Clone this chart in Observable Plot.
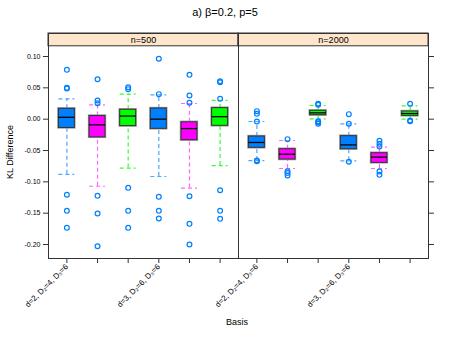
<!DOCTYPE html>
<html>
<head>
<meta charset="utf-8">
<script src="https://cdn.jsdelivr.net/npm/d3@7"></script>
<script src="https://cdn.jsdelivr.net/npm/@observablehq/plot@0.6"></script>
<style>
  body { margin: 0; background: #fff; }
  #wrap { position: relative; width: 450px; height: 337px; font-family: "Liberation Sans", Arial, sans-serif; }
  #title { height: 24px; line-height: 24px; text-align: center; font-size: 11px; color: #000; }
  .lab { position: absolute; font-size: 9px; color: #000; white-space: nowrap; }
</style>
</head>
<body>
<div id="wrap">
  <div id="title">a) β=0.2, p=5</div>
  <div id="chart"></div>
  <div class="lab" id="xlab" style="left:237px; top:317px; transform:translateX(-50%);">Basis</div>
  <div class="lab" id="ylab" style="left:10px; top:152px; transform:translate(-50%,-50%) rotate(-90deg);">KL Difference</div>
</div>
<script>
const panels = ["n=500", "n=2000"];
const positions = [1, 2, 3, 4, 5, 6];
const basisLabels = ["d=2, D₂=4, D₃=6", "", "", "d=3, D₂=6, D₃=6", "", ""];
const yTicks = [-0.20, -0.15, -0.10, -0.05, 0.00, 0.05, 0.10];
const boxFill = ["#0080ff", "#ff00ff", "#00ff00", "#0080ff", "#ff00ff", "#00ff00"];
const whiskerColor = ["#4da6ff", "#ff66ff", "#33ff33", "#4da6ff", "#ff66ff", "#33ff33"];

// n=500
const lo500  = [-0.088, -0.107, -0.078, -0.0915, -0.110, -0.074];
const q1_500 = [-0.014, -0.029, -0.011, -0.0154, -0.0335, -0.0106];
const med500 = [0.003, -0.009, 0.005, 0.000, -0.015, 0.004];
const q3_500 = [0.0165, 0.005, 0.015, 0.017, -0.005, 0.0176];
const hi500  = [0.0324, 0.0229, 0.040, 0.0388, 0.025, 0.030];
const out500 = [
  [0.0787, 0.050, 0.049, -0.1207, -0.1463, -0.1734],
  [0.0638, 0.0298, 0.0255, -0.1223, -0.1505, -0.2027],
  [0.051, 0.0479, -0.1096, -0.1463, -0.1734],
  [0.0963, 0.0399, -0.1239, -0.1463, -0.1585],
  [0.0707, 0.0378, 0.0261, -0.1229, -0.167, -0.200],
  [0.0606, 0.059, 0.0324, -0.1133, -0.1463, -0.159]
];
// n=2000
const lo2000  = [-0.066, -0.0787, 0.0005, -0.0665, -0.0787, 0.000];
const q1_2000 = [-0.0457, -0.0644, 0.0064, -0.0479, -0.0697, 0.0053];
const med2000 = [-0.0372, -0.0559, 0.0101, -0.041, -0.0606, 0.009];
const q3_2000 = [-0.0277, -0.0479, 0.0133, -0.0271, -0.0543, 0.0122];
const hi2000  = [-0.0037, -0.034, 0.0218, -0.0074, -0.0447, 0.0213];
const out2000 = [
  [0.0128, 0.0085, -0.0037, -0.066, -0.067],
  [-0.0319, -0.083, -0.0899, -0.086],
  [0.0245, 0.023, -0.0032, -0.0074, -0.005],
  [0.008, -0.0074, -0.068],
  [-0.0346, -0.0394, -0.0436, -0.0835, -0.0888],
  [0.0245, -0.0032, -0.002]
];

const stats = [
  {lo: lo500, q1: q1_500, med: med500, q3: q3_500, hi: hi500, out: out500},
  {lo: lo2000, q1: q1_2000, med: med2000, q3: q3_2000, hi: hi2000, out: out2000}
];

const boxes = panels.flatMap((p, pi) => positions.map((x, i) => ({
  panel: p, x, i,
  lo: stats[pi].lo[i], q1: stats[pi].q1[i], med: stats[pi].med[i],
  q3: stats[pi].q3[i], hi: stats[pi].hi[i]
})));
const outliers = panels.flatMap((p, pi) => positions.flatMap((x, i) =>
  stats[pi].out[i].map(v => ({panel: p, x, v}))));

const xDomain = [0.4, 6.6];
const yDomain = [-0.2223, 0.1367];
const stripBottom = 0.1163;
const hw = 0.26;

const strips = panels.map(p => ({panel: p}));

const chart = Plot.plot({
  width: 450,
  height: 313,
  marginTop: 9,
  marginBottom: 79,
  marginLeft: 47,
  marginRight: 22,
  style: {fontFamily: "Liberation Sans, Arial, sans-serif", fontSize: "7px", color: "#000", background: "#fff"},
  fx: {domain: panels, padding: 0, axis: null},
  x: {domain: xDomain},
  y: {domain: yDomain},
  marks: [
    Plot.rect(strips, {fx: "panel", x1: xDomain[0], x2: xDomain[1], y1: stripBottom, y2: yDomain[1], fill: "#ffe5cc", stroke: "#333", strokeWidth: 1}),
    Plot.text(strips, {fx: "panel", x: (xDomain[0] + xDomain[1]) / 2, y: (stripBottom + yDomain[1]) / 2, text: "panel", fontSize: 9, fill: "#000"}),
    // whiskers
    Plot.ruleX(boxes, {fx: "panel", x: "x", y1: "q3", y2: "hi", stroke: d => whiskerColor[d.i], strokeDasharray: "4,3", strokeWidth: 1.2}),
    Plot.ruleX(boxes, {fx: "panel", x: "x", y1: "lo", y2: "q1", stroke: d => whiskerColor[d.i], strokeDasharray: "4,3", strokeWidth: 1.2}),
    Plot.ruleY(boxes, {fx: "panel", y: "hi", x1: d => d.x - hw, x2: d => d.x + hw, stroke: d => whiskerColor[d.i], strokeDasharray: "4,3", strokeWidth: 1.2}),
    Plot.ruleY(boxes, {fx: "panel", y: "lo", x1: d => d.x - hw, x2: d => d.x + hw, stroke: d => whiskerColor[d.i], strokeDasharray: "4,3", strokeWidth: 1.2}),
    // boxes
    Plot.rect(boxes, {fx: "panel", x1: d => d.x - hw, x2: d => d.x + hw, y1: "q1", y2: "q3", fill: d => boxFill[d.i], stroke: "#999", strokeWidth: 2.4}),
    Plot.rect(boxes, {fx: "panel", x1: d => d.x - hw, x2: d => d.x + hw, y1: "q1", y2: "q3", fill: d => boxFill[d.i], stroke: "#333", strokeWidth: 1}),
    Plot.ruleY(boxes, {fx: "panel", y: "med", x1: d => d.x - hw, x2: d => d.x + hw, stroke: "#000", strokeWidth: 1.3}),
    // outliers
    Plot.dot(outliers, {fx: "panel", x: "x", y: "v", r: 2.4, stroke: "#0080ff", strokeWidth: 1.2, fill: "none"}),
    Plot.frame({stroke: "#333", strokeWidth: 1}),
    Plot.axisY({anchor: "left", ticks: yTicks, tickFormat: d => d.toFixed(2), tickSize: 5, tickPadding: 3, label: null, stroke: "#333"}),
    Plot.axisY({anchor: "right", ticks: yTicks, tickFormat: () => "", tickSize: 5, label: null, stroke: "#333"}),
    Plot.axisX({anchor: "bottom", ticks: positions, tickFormat: d => basisLabels[d - 1], tickSize: 5, tickPadding: 2, tickRotate: -45, label: null, stroke: "#333", fontSize: 7.8})
  ]
});
document.getElementById("chart").appendChild(chart);
</script>
</body>
</html>
